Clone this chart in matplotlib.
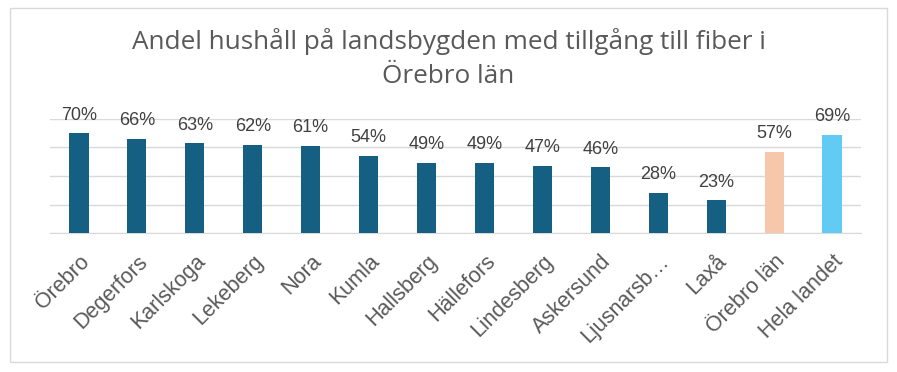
import matplotlib
matplotlib.use("Agg")
import matplotlib.pyplot as plt
from matplotlib.patches import Rectangle

kommuner = ["Örebro", "Degerfors", "Karlskoga", "Lekeberg", "Nora", "Kumla",
            "Hallsberg", "Hällefors", "Lindesberg", "Askersund", "Ljusnarsb…",
            "Laxå", "Örebro län", "Hela landet"]
andel = [70, 66, 63, 62, 61, 54, 49, 49, 47, 46, 28, 23, 57, 69]
farger = ["#156082"] * 12 + ["#F7C7AC", "#61CBF3"]

fig = plt.figure(figsize=(8.97, 3.72), dpi=100)
fig.patches.append(Rectangle((10 / 897, 10 / 372), 877 / 897, 354 / 372,
                             transform=fig.transFigure, fill=False,
                             edgecolor="#D9D9D9", linewidth=1))

ax = fig.add_axes([50 / 897, 139 / 372, 811 / 897, 114 / 372])
x = range(len(kommuner))
bars = ax.bar(x, andel, width=0.33, color=farger, zorder=3)
ax.set_ylim(0, 80)
ax.set_xlim(-0.5, len(kommuner) - 0.5)
ax.set_yticks([0, 20, 40, 60, 80])
ax.yaxis.grid(True, color="#D9D9D9", linewidth=1, zorder=0)
ax.tick_params(axis="y", left=False, labelleft=False)
ax.tick_params(axis="x", length=0, pad=13)
for s in ["left", "right", "top"]:
    ax.spines[s].set_visible(False)
ax.spines["bottom"].set_color("#D9D9D9")

ax.set_xticks(list(x))
ax.set_xticklabels(kommuner, rotation=45, ha="right", rotation_mode="anchor",
                   fontsize=15.5, color="#595959", family="Liberation Sans")

for b, v in zip(bars, andel):
    ax.annotate(f"{v}%", (b.get_x() + b.get_width() / 2, v), xytext=(0, 7),
                textcoords="offset points", ha="center", va="bottom",
                fontsize=13, color="#404040", family="Liberation Sans")

fig.text(0.5, 1 - 49 / 372, "Andel hushåll på landsbygden med tillgång till fiber i",
         ha="center", va="baseline", fontsize=18.8, color="#595959", family="Open Sans")
fig.text(0.5, 1 - 83 / 372, "Örebro län", ha="center", va="baseline",
         fontsize=18.8, color="#595959", family="Open Sans")

fig.savefig("out.png", dpi=100)
